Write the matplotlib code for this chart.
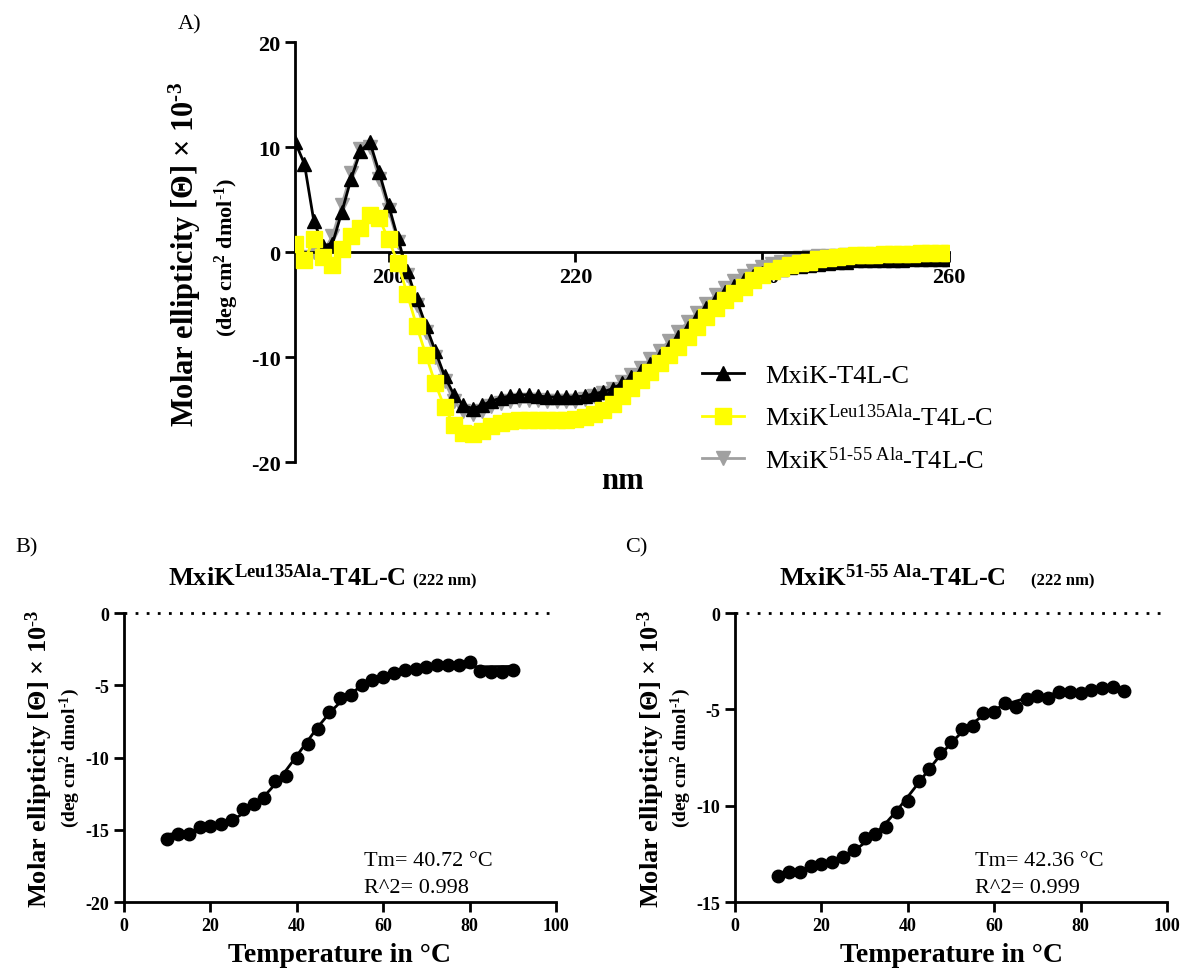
import numpy as np
import matplotlib
matplotlib.use("Agg")
import matplotlib.pyplot as plt

plt.rcParams['font.family'] = ['Liberation Serif', 'DejaVu Serif']
plt.rcParams['mathtext.fontset'] = 'custom'
plt.rcParams['mathtext.rm'] = 'Liberation Serif'
plt.rcParams['mathtext.it'] = 'Liberation Serif:italic'
plt.rcParams['mathtext.bf'] = 'Liberation Serif:bold'
plt.rcParams['axes.unicode_minus'] = False

# ---- Panel A: CD spectra (x 10^-3 deg cm2 dmol-1) ----
wavelength = list(range(190, 261))
wt = [10.5, 8.4, 3.0, 0.6, 0.8, 3.8, 7.0, 9.6, 10.5, 7.6,
      4.5, 1.3, -1.8, -4.5, -7.0, -9.4, -11.8, -13.6, -14.6, -14.9,
      -14.6, -14.2, -13.9, -13.7, -13.6, -13.6, -13.7, -13.8, -13.8, -13.8,
      -13.8, -13.7, -13.5, -13.3, -13.0, -12.5, -11.9, -11.3, -10.7, -9.9,
      -9.0, -8.1, -7.2, -6.2, -5.3, -4.5, -3.8, -3.2, -2.7, -2.3,
      -2.0, -1.8, -1.6, -1.4, -1.3, -1.2, -1.1, -1.0, -0.9, -0.9,
      -0.8, -0.8, -0.8, -0.8, -0.8, -0.8, -0.7, -0.7, -0.7, -0.7, -0.7]
leu135 = [0.8, -0.8, 1.2, -0.5, -1.2, 0.3, 1.5, 2.3, 3.5, 3.2,
          1.2, -1.0, -4.0, -7.0, -9.8, -12.5, -14.8, -16.5, -17.2, -17.3,
          -17.0, -16.6, -16.3, -16.1, -16.0, -16.0, -16.0, -16.0, -16.0, -16.0,
          -15.9, -15.7, -15.4, -15.0, -14.5, -13.7, -12.9, -12.2, -11.4, -10.6,
          -9.8, -9.0, -8.1, -7.1, -6.2, -5.3, -4.6, -3.9, -3.3, -2.7,
          -2.2, -1.8, -1.5, -1.2, -1.0, -0.9, -0.7, -0.6, -0.5, -0.4,
          -0.3, -0.3, -0.3, -0.2, -0.2, -0.2, -0.2, -0.1, -0.1, -0.1, -0.1]
ala5155 = [0.5, -0.5, 0.0, 0.0, 1.5, 4.5, 7.5, 9.8, 10.0, 7.0,
           4.0, 1.0, -2.2, -5.0, -7.6, -10.0, -12.3, -14.2, -15.1, -15.4,
           -15.1, -14.7, -14.4, -14.2, -14.1, -14.1, -14.1, -14.2, -14.2, -14.2,
           -14.2, -14.0, -13.7, -13.4, -13.0, -12.4, -11.7, -11.0, -10.2, -9.4,
           -8.5, -7.6, -6.7, -5.8, -4.9, -4.1, -3.4, -2.8, -2.3, -1.8,
           -1.4, -1.1, -0.9, -0.7, -0.6, -0.5, -0.4, -0.4, -0.4, -0.3,
           -0.3, -0.3, -0.3, -0.3, -0.2, -0.2, -0.2, -0.2, -0.2, -0.2, -0.2]

# ---- Panels B/C: thermal melts at 222 nm ----
temp = [10 + 2.5 * i for i in range(33)]
melt_leu = [-15.65, -15.30, -15.30, -14.84, -14.72, -14.58, -14.31, -13.54, -13.19, -12.80,
            -11.60, -11.25, -10.05, -9.03, -8.06, -6.85, -5.88, -5.69, -5.00, -4.63,
            -4.40, -4.17, -3.94, -3.84, -3.73, -3.59, -3.59, -3.61, -3.42, -4.00,
            -4.06, -4.10, -3.96]
melt_ala = [-13.63, -13.46, -13.42, -13.15, -13.03, -12.90, -12.64, -12.28, -11.68, -11.47,
            -11.12, -10.34, -9.74, -8.70, -8.10, -7.27, -6.68, -6.02, -5.85, -5.21,
            -5.12, -4.67, -4.90, -4.46, -4.32, -4.39, -4.08, -4.12, -4.15, -4.01,
            -3.87, -3.84, -4.03]
tm_leu, r2_leu = 40.72, 0.998
tm_ala, r2_ala = 42.36, 0.999

YLAB1 = r'Molar ellipticity [Θ] × 10$^{\text{-}\mathbf{3}}$'
YLAB2 = r'(deg cm$^{\mathbf{2}}$ dmol$^{\text{-}\mathbf{1}}$)'


def boltzmann_fit(t, y, tm):
    # fit bottom/top/slope with the reported Tm fixed
    t = np.asarray(t); y = np.asarray(y)
    best = None
    for s in np.linspace(2, 20, 361):
        f = 1.0 / (1.0 + np.exp((tm - t) / s))
        A = np.column_stack([1 - f, f])
        coef, *_ = np.linalg.lstsq(A, y, rcond=None)
        err = np.sum((A @ coef - y) ** 2)
        if best is None or err < best[0]:
            best = (err, s, coef)
    _, s, (bot, top) = best
    tt = np.linspace(t.min(), t.max(), 300)
    ff = 1.0 / (1.0 + np.exp((tm - tt) / s))
    return tt, bot * (1 - ff) + top * ff


fig = plt.figure(figsize=(11.85, 9.79), dpi=100)

# ---------------- Panel A ----------------
axA = fig.add_axes([0.249, 0.527, 0.552, 0.429])
axA.plot(wavelength, ala5155, color='#a0a0a0', lw=2, marker='v', ms=9.5,
         label=r'MxiK$^{\mathrm{51\text{-}55\ Ala}}$-T4L-C', zorder=2)
axA.plot(wavelength, wt, color='black', lw=2, marker='^', ms=9.5,
         label='MxiK-T4L-C', zorder=3)
axA.plot(wavelength, leu135, color='#ffff00', lw=2, marker='s', ms=11,
         label=r'MxiK$^{\mathrm{Leu135Ala}}$-T4L-C', zorder=4)
axA.set_xlim(190, 260)
axA.set_ylim(-20, 20)
axA.spines['bottom'].set_position(('data', 0))
axA.spines['top'].set_visible(False)
axA.spines['right'].set_visible(False)
for sp in ['left', 'bottom']:
    axA.spines[sp].set_linewidth(2)
axA.set_xticks([200, 220, 240, 260])
axA.set_yticks([-20, -10, 0, 10, 20])
axA.tick_params(direction='out', length=7, width=2, labelsize=16)
for lab in axA.get_xticklabels() + axA.get_yticklabels():
    lab.set_fontweight('bold')
axA.text(0.5, -0.045, 'nm', transform=axA.transAxes, ha='center', va='center',
         fontsize=22, fontweight='bold')
fig.text(185 / 1185, 1 - 255 / 979, YLAB1,
         rotation=90, ha='center', va='center', fontsize=22, fontweight='bold')
fig.text(227 / 1185, 1 - 257 / 979, YLAB2,
         rotation=90, ha='center', va='center', fontsize=16, fontweight='bold')
h, l = axA.get_legend_handles_labels()
order = [1, 2, 0]
fig.legend([h[i] for i in order], [l[i] for i in order], loc='upper left',
           bbox_to_anchor=(0.572, 0.652), frameon=False, fontsize=19,
           handlelength=1.6, labelspacing=0.62, handletextpad=0.8)
fig.text(178 / 1185, 1 - 25 / 979, 'A)', fontsize=16, va='center')

# ---------------- Panels B and C ----------------
def melt_panel(rect, y, tm, r2, ylim, yticks, title_sup, label, label_x):
    ax = fig.add_axes(rect)
    tt, yy = boltzmann_fit(temp, y, tm)
    ax.plot(tt, yy, color='black', lw=2, zorder=2)
    ax.plot(temp, y, 'o', color='black', ms=9, zorder=3)
    ax.plot([0, 100], [0, 0], color='black', ls=(0, (1, 3)), lw=2, clip_on=False)
    ax.set_xlim(0, 100)
    ax.set_ylim(*ylim)
    ax.set_xticks([0, 20, 40, 60, 80, 100])
    ax.set_yticks(yticks)
    ax.spines['top'].set_visible(False)
    ax.spines['right'].set_visible(False)
    for sp in ['left', 'bottom']:
        ax.spines[sp].set_linewidth(2)
    ax.tick_params(direction='out', length=7, width=2, labelsize=13)
    for lab in ax.get_xticklabels() + ax.get_yticklabels():
        lab.set_fontweight('bold')
    ax.set_xlabel('Temperature in °C', fontsize=20, fontweight='bold', labelpad=6)
    ax.text(0.555, 0.128, f'Tm= {tm:.2f} °C', transform=ax.transAxes, fontsize=16)
    ax.text(0.555, 0.035, f'R^2= {r2:.3f}', transform=ax.transAxes, fontsize=16)
    ax.text(0.102, 1.10, r'MxiK$^{\mathbf{' + title_sup + r'}}$-T4L-C',
            transform=ax.transAxes, fontsize=19, fontweight='bold', va='baseline')
    ax.text(label_x, 1.10, '(222 nm)', transform=ax.transAxes, fontsize=12,
            fontweight='bold', va='baseline')
    ax.text(-0.195, 0.5, YLAB1, transform=ax.transAxes, rotation=90,
            ha='center', va='center', fontsize=19, fontweight='bold')
    ax.text(-0.125, 0.5, YLAB2, transform=ax.transAxes, rotation=90,
            ha='center', va='center', fontsize=14, fontweight='bold')
    fig.text(label[1] / 1185, 1 - 548 / 979, label[0], fontsize=16, va='center')
    return ax


melt_panel([0.1046, 0.0776, 0.3646, 0.2952], melt_leu, tm_leu, r2_leu,
           (-20, 0), [-20, -15, -10, -5, 0], 'Leu135Ala', ('B)', 15), 0.669)
melt_panel([0.6203, 0.0776, 0.3646, 0.2952], melt_ala, tm_ala, r2_ala,
           (-15, 0), [-15, -10, -5, 0], r'51\text{-}55\ Ala', ('C)', 625), 0.685)

fig.savefig('out.png', dpi=100)
